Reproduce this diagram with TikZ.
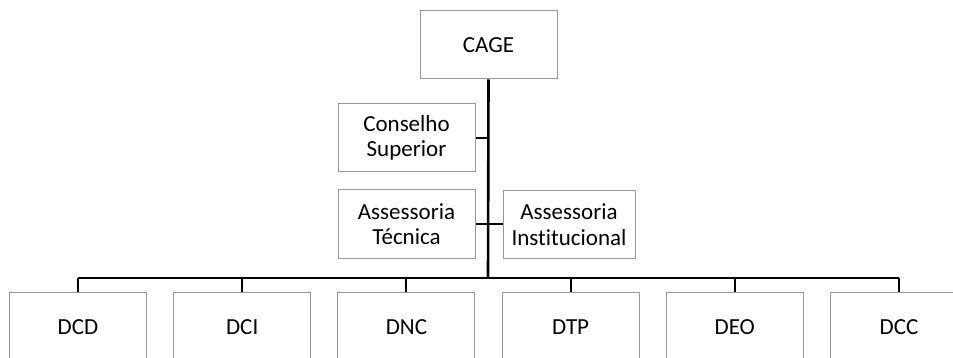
\documentclass[tikz,border=0pt]{standalone}
\usepackage{fontspec}
\setmainfont{Carlito}[Ligatures=CommonOff]
\usetikzlibrary{calc}

\begin{document}
\begin{tikzpicture}[x=1pt,y=-1pt]
            \tikzset{unit/.style = {draw=black!40, line width=1pt, minimum width=137pt, minimum height=68pt,
                inner sep=0pt, align=center, font=\fontsize{23}{25.5}\selectfont}}
            \tikzset{link/.style = {draw=black, line width=2pt}}
            \tikzset{trunk/.style = {draw=black, line width=2.6pt}}

            \clip (0,0) rectangle (953,358);

            % top and staff units
            \node[unit] (cage) at (488.5,45) {CAGE};
            \node[unit] (cons) at (406.5,138) {Conselho\\Superior};
            \node[unit] (asstec) at (406.5,224) {Assessoria\\T\'ecnica};
            \node[unit, minimum width=132pt] (assinst) at (569,224.5) {Assessoria\\Institucional};
            \coordinate (bus) at (488,278);

            % directorates
            \foreach \n [count=\i] in {DCD,DCI,DNC,DTP,DEO,DCC}
            {
              \node[unit, minimum height=70pt] (\n) at ({78+164.2*(\i-1)},327) {\n};
              \draw[link] (\n.north) -- (\n |- bus);
            }

            % edges
            \draw[trunk] (cage.south) -- (bus);
            \draw[trunk] (DCD |- bus) -- (DCC |- bus);
            \foreach \y in {cons,asstec} {\draw[link] (\y.east) -- (\y.east -| bus);}
            \draw[link] (assinst.west) -- (assinst.west -| bus);

          \end{tikzpicture}
\end{document}
